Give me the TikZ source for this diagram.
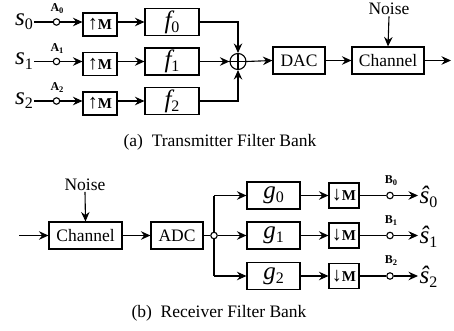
\documentclass[tikz,border=0pt]{standalone}
\usepackage{fontspec}
\setmainfont{Liberation Serif}[ItalicFont={Liberation Serif Italic},BoldFont={Liberation Serif Bold}]
\usetikzlibrary{arrows.meta,calc}
\newcommand\msub[2]{{\fontsize{25}{25}\selectfont\itshape #1}\raisebox{-0.5ex}{\fontsize{16}{16}\selectfont #2}}
\newcommand\plab[2]{{\bfseries\fontsize{12}{12}\selectfont #1\raisebox{-0.35ex}{\fontsize{8.5}{8.5}\selectfont #2}}}
\newcommand\rsM[1]{{\bfseries\fontsize{20}{20}\selectfont #1\fontsize{15}{15}\selectfont M}}
\begin{document}
\begin{tikzpicture}[x=1pt,y=-1pt,
  font=\fontsize{17.5}{21}\selectfont,
  line width=1.1pt,
  arr/.style={-{Stealth[length=9.5pt,width=8.5pt,inset=3.2pt]}},
  blk/.style={draw,rectangle,inner sep=0pt,minimum height=27pt},
  rbox/.style={draw,rectangle,inner sep=0pt,minimum width=31pt,minimum height=24pt},
  tap/.style={draw,circle,inner sep=0pt,minimum size=6.5pt,fill=white},
  plain/.style={inner sep=1pt}]
\useasboundingbox (0,0) rectangle (454,331);
% ---------- transmitter ----------
\foreach \i/\y in {0/22,1/61.5,2/101}{
  \node[plain,anchor=base] (s\i) at (24,\y+3.5) {\msub{s}{\i}};
  \node[tap] (c\i) at (56.5,\y) {};
  \node[plain] (a\i) at (57,\y-13) {\plab{A}{\i}};
  \node[rbox,minimum width=34pt,minimum height=23pt] (u\i) at (100,\y+2.5) {\rsM{↑}};
  \node[blk,minimum width=54pt] (f\i) at (172,\y) {\msub{f}{\i}};
  \draw (s\i.east |- c\i) -- (c\i);
  \draw[arr] (c\i) -- (u\i.west |- c\i);
  \draw[arr] (u\i.east |- c\i) -- (f\i.west);
}
\node[draw,circle,inner sep=0pt,minimum size=16pt] (sum) at (238,61.5) {};
\draw (sum.north) -- (sum.south) (sum.west) -- (sum.east);
\draw[arr] (f0.east) -| (sum.north);
\draw[arr] (f1.east) -- (sum.west);
\draw[arr] (f2.east) -| (sum.south);
\node[blk,minimum width=52pt] (dac) at (299,60.5) {DAC};
\node[blk,minimum width=72pt] (ch1) at (388,60.5) {Channel};
\node[plain] (n1) at (389,9) {Noise};
\coordinate (o1) at (451,60.5);
\draw[arr] (sum.east) -- (dac.west);
\draw[arr] (dac.east) -- (ch1.west);
\draw[arr] (n1.south) -- (ch1.north);
\draw[arr] (ch1.east) -- (o1);
\node[plain] (capa) at (220,142) {(a)\ \ Transmitter Filter Bank};
% ---------- receiver ----------
\coordinate (i2) at (19,235.5);
\node[blk,minimum width=73pt] (ch2) at (85.5,235.5) {Channel};
\node[plain] (n2) at (85,184.5) {Noise};
\node[blk,minimum width=52pt] (adc) at (177,235.5) {ADC};
\node[tap] (sp) at (214,235.5) {};
\draw[arr] (i2) -- (ch2.west);
\draw[arr] (n2.south) -- (ch2.north);
\draw[arr] (ch2.east) -- (adc.west);
\draw (adc.east) -- (sp);
\foreach \i/\y in {0/195.5,1/235.5,2/276}{
  \node[blk,minimum width=53pt] (g\i) at (273.5,\y) {\msub{g}{\i}};
  \node[rbox,minimum width=30pt,minimum height=25pt] (d\i) at (344,\y) {\rsM{↓}};
  \node[tap] (e\i) at (390,\y) {};
  \node[plain] (b\i) at (391,\y-15) {\plab{B}{\i}};
  \node[plain,anchor=west] (h\i) at (418,\y+1) {{\fontsize{25}{25}\selectfont\itshape \^{s}}\raisebox{-0.5ex}{\fontsize{16}{16}\selectfont \i}};
  \draw[arr] (g\i.east) -- (d\i.west);
  \draw (d\i.east) -- (e\i);
  \draw[arr] (e\i) -- (h\i.west |- e\i);
}
\coordinate (tp) at (214,195.5);
\coordinate (bt) at (214,276);
\draw (sp) -- (tp) (sp) -- (bt);
\draw[arr] (tp) -- (g0.west);
\draw[arr] (sp) -- (g1.west);
\draw[arr] (bt) -- (g2.west);
\node[plain] (capb) at (219,313) {(b)\ \ Receiver Filter Bank};
\end{tikzpicture}
\end{document}
